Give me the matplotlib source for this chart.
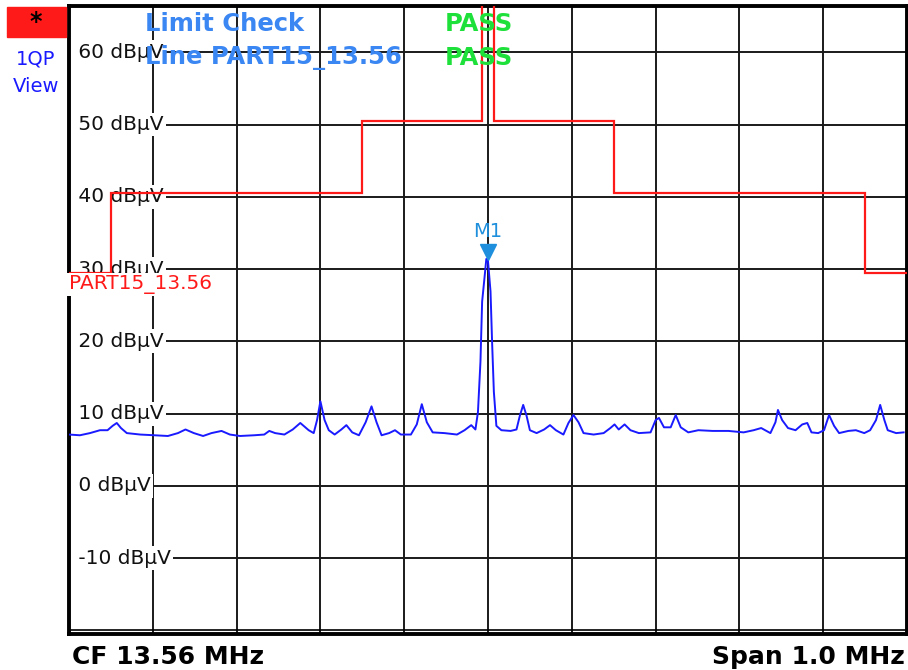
import matplotlib
matplotlib.use('Agg')
import matplotlib.pyplot as plt
from matplotlib.patches import Rectangle
from matplotlib.transforms import offset_copy

# Trace (MHz, dBuV)
freq_mhz = [13.060, 13.073, 13.085, 13.097, 13.106, 13.112, 13.117, 13.122, 13.129, 13.145,
            13.162, 13.178, 13.190, 13.199, 13.209, 13.220, 13.230, 13.242, 13.252, 13.264,
            13.281, 13.293, 13.299, 13.306, 13.317, 13.327, 13.336, 13.346, 13.352, 13.356,
            13.360, 13.365, 13.370, 13.377, 13.385, 13.391, 13.398, 13.406, 13.414, 13.421,
            13.427, 13.433, 13.442, 13.449, 13.456, 13.468, 13.475, 13.481, 13.487, 13.494,
            13.508, 13.523, 13.532, 13.540, 13.545, 13.548, 13.551, 13.553, 13.556, 13.558,
            13.560, 13.563, 13.565, 13.567, 13.570, 13.576, 13.587, 13.594, 13.598, 13.602,
            13.606, 13.610, 13.618, 13.627, 13.634, 13.641, 13.650, 13.656, 13.662, 13.668,
            13.674, 13.686, 13.698, 13.706, 13.711, 13.716, 13.723, 13.730, 13.740, 13.754,
            13.760, 13.764, 13.770, 13.778, 13.784, 13.790, 13.799, 13.811, 13.828, 13.847,
            13.865, 13.877, 13.886, 13.897, 13.903, 13.906, 13.911, 13.918, 13.927, 13.935,
            13.941, 13.946, 13.954, 13.961, 13.967, 13.973, 13.979, 13.990, 13.999, 14.009,
            14.016, 14.023, 14.028, 14.033, 14.037, 14.047, 14.056]
level_dbuv = [7.1, 7.0, 7.3, 7.7, 7.7, 8.3, 8.7, 8.0, 7.3, 7.1,
              7.0, 6.9, 7.3, 7.8, 7.3, 6.9, 7.3, 7.6, 7.1, 6.9,
              7.0, 7.1, 7.6, 7.3, 7.1, 7.8, 8.7, 7.7, 7.3, 9.1,
              11.7, 9.1, 7.7, 7.1, 7.8, 8.4, 7.4, 7.0, 8.8, 11.0,
              8.8, 7.0, 7.3, 7.7, 7.1, 7.1, 8.5, 11.3, 8.8, 7.4,
              7.3, 7.1, 7.7, 8.4, 7.8, 10.2, 17.2, 25.5, 29.0, 31.4,
              31.1, 26.9, 19.5, 13.0, 8.3, 7.7, 7.6, 7.8, 9.7, 11.2,
              9.7, 7.7, 7.3, 7.8, 8.4, 7.7, 7.1, 8.7, 9.8, 8.8,
              7.3, 7.1, 7.3, 8.0, 8.5, 7.8, 8.5, 7.7, 7.3, 7.4,
              9.1, 9.4, 8.1, 8.1, 9.8, 8.1, 7.4, 7.7, 7.6, 7.6,
              7.4, 7.7, 8.0, 7.3, 8.8, 10.5, 9.1, 8.0, 7.7, 8.5,
              8.7, 7.4, 7.3, 7.7, 9.8, 8.3, 7.3, 7.6, 7.7, 7.3,
              7.7, 9.1, 11.2, 9.1, 7.7, 7.3, 7.4]

# PART15_13.56 limit line
limit_edges = [13.06, 13.11, 13.41, 13.553, 13.567, 13.71, 14.01, 14.06]
limit_levels = [29.5, 40.5, 50.5, 84.0, 50.5, 40.5, 29.5]

grid_levels = [60, 50, 40, 30, 20, 10, 0, -10]
grid_freqs = [13.16, 13.26, 13.36, 13.46, 13.56, 13.66, 13.76, 13.86, 13.96]
marker_freq = 13.56
marker_level = 31.4

W, H = 908, 670
fig = plt.figure(figsize=(W / 100, H / 100), dpi=100)
ax = fig.add_axes([69 / W, 36 / H, 838 / W, 628 / H])
ax.set_xlim(13.06, 14.06)
ax.set_ylim(-20.5, 66.4)
ax.set_xticks(grid_freqs)
ax.set_yticks(grid_levels)
ax.tick_params(length=0, labelbottom=False, labelleft=False)
ax.grid(True, color='#1a1a1a', lw=1.4, zorder=1)
ax.set_axisbelow(True)
for s in ax.spines.values():
    s.set_linewidth(2.8)
    s.set_color('black')
# double line at the bottom
ax.axhline(-19.95, color='black', lw=1.2, zorder=5)

# level labels inside the grid (leading space so the white box starts at the frame)
for lv in grid_levels:
    ax.text(13.0635, lv, f' {lv} dBµV', fontsize=14.5, va='center', ha='left', color='#111111',
            bbox=dict(boxstyle='square,pad=0.12', fc='white', ec='none'), zorder=2)

ax.stairs(limit_levels, limit_edges, color='#ff1a1a', lw=1.6, baseline=None, zorder=4)
ax.plot(freq_mhz, level_dbuv, color='#1a1aff', lw=1.4, zorder=3)

ax.text(13.0605, 27.8, 'PART15_13.56', color='#ff1a1a', fontsize=14.5, va='center', ha='left',
        bbox=dict(boxstyle='square,pad=0.1', fc='white', ec='none'), zorder=5)

# marker M1
mk_color = '#1e8fdc'
tri = offset_copy(ax.transData, fig=fig, x=0, y=7, units='dots')
ax.plot([marker_freq], [marker_level], marker='v', ms=12, color=mk_color, transform=tri, zorder=6)
ax.annotate('M1', xy=(marker_freq, marker_level), xytext=(0, 20), textcoords='offset points',
            ha='center', va='center', fontsize=14, color=mk_color, zorder=6)

# header items
fig.patches.append(Rectangle((7 / W, 1 - 37 / H), 59 / W, 30 / H, color='#ff1a1a',
                             transform=fig.transFigure))
fig.text(36 / W, 1 - 22 / H, '*', fontsize=17, fontweight='bold', ha='center', va='center')
fig.text(36 / W, 1 - 59 / H, '1QP', fontsize=14, color='#1a1aff', ha='center', va='center')
fig.text(36 / W, 1 - 87 / H, 'View', fontsize=14, color='#1a1aff', ha='center', va='center')

blue = '#3a86f2'
green = '#1ee03a'
fig.text(145 / W, 1 - 24 / H, 'Limit Check', fontsize=17.5, fontweight='bold', color=blue, va='center')
fig.text(145 / W, 1 - 58 / H, 'Line PART15_13.56', fontsize=17.5, fontweight='bold', color=blue, va='center')
fig.text(445 / W, 1 - 24 / H, 'PASS', fontsize=17.5, fontweight='bold', color=green, va='center')
fig.text(445 / W, 1 - 58 / H, 'PASS', fontsize=17.5, fontweight='bold', color=green, va='center')

foot = dict(fontsize=18, fontweight='bold', va='center')
fig.text(72 / W, 1 - 657 / H, 'CF 13.56 MHz', ha='left', **foot)
fig.text(905 / W, 1 - 657 / H, 'Span 1.0 MHz', ha='right', **foot)

fig.savefig('out.png', dpi=100)
